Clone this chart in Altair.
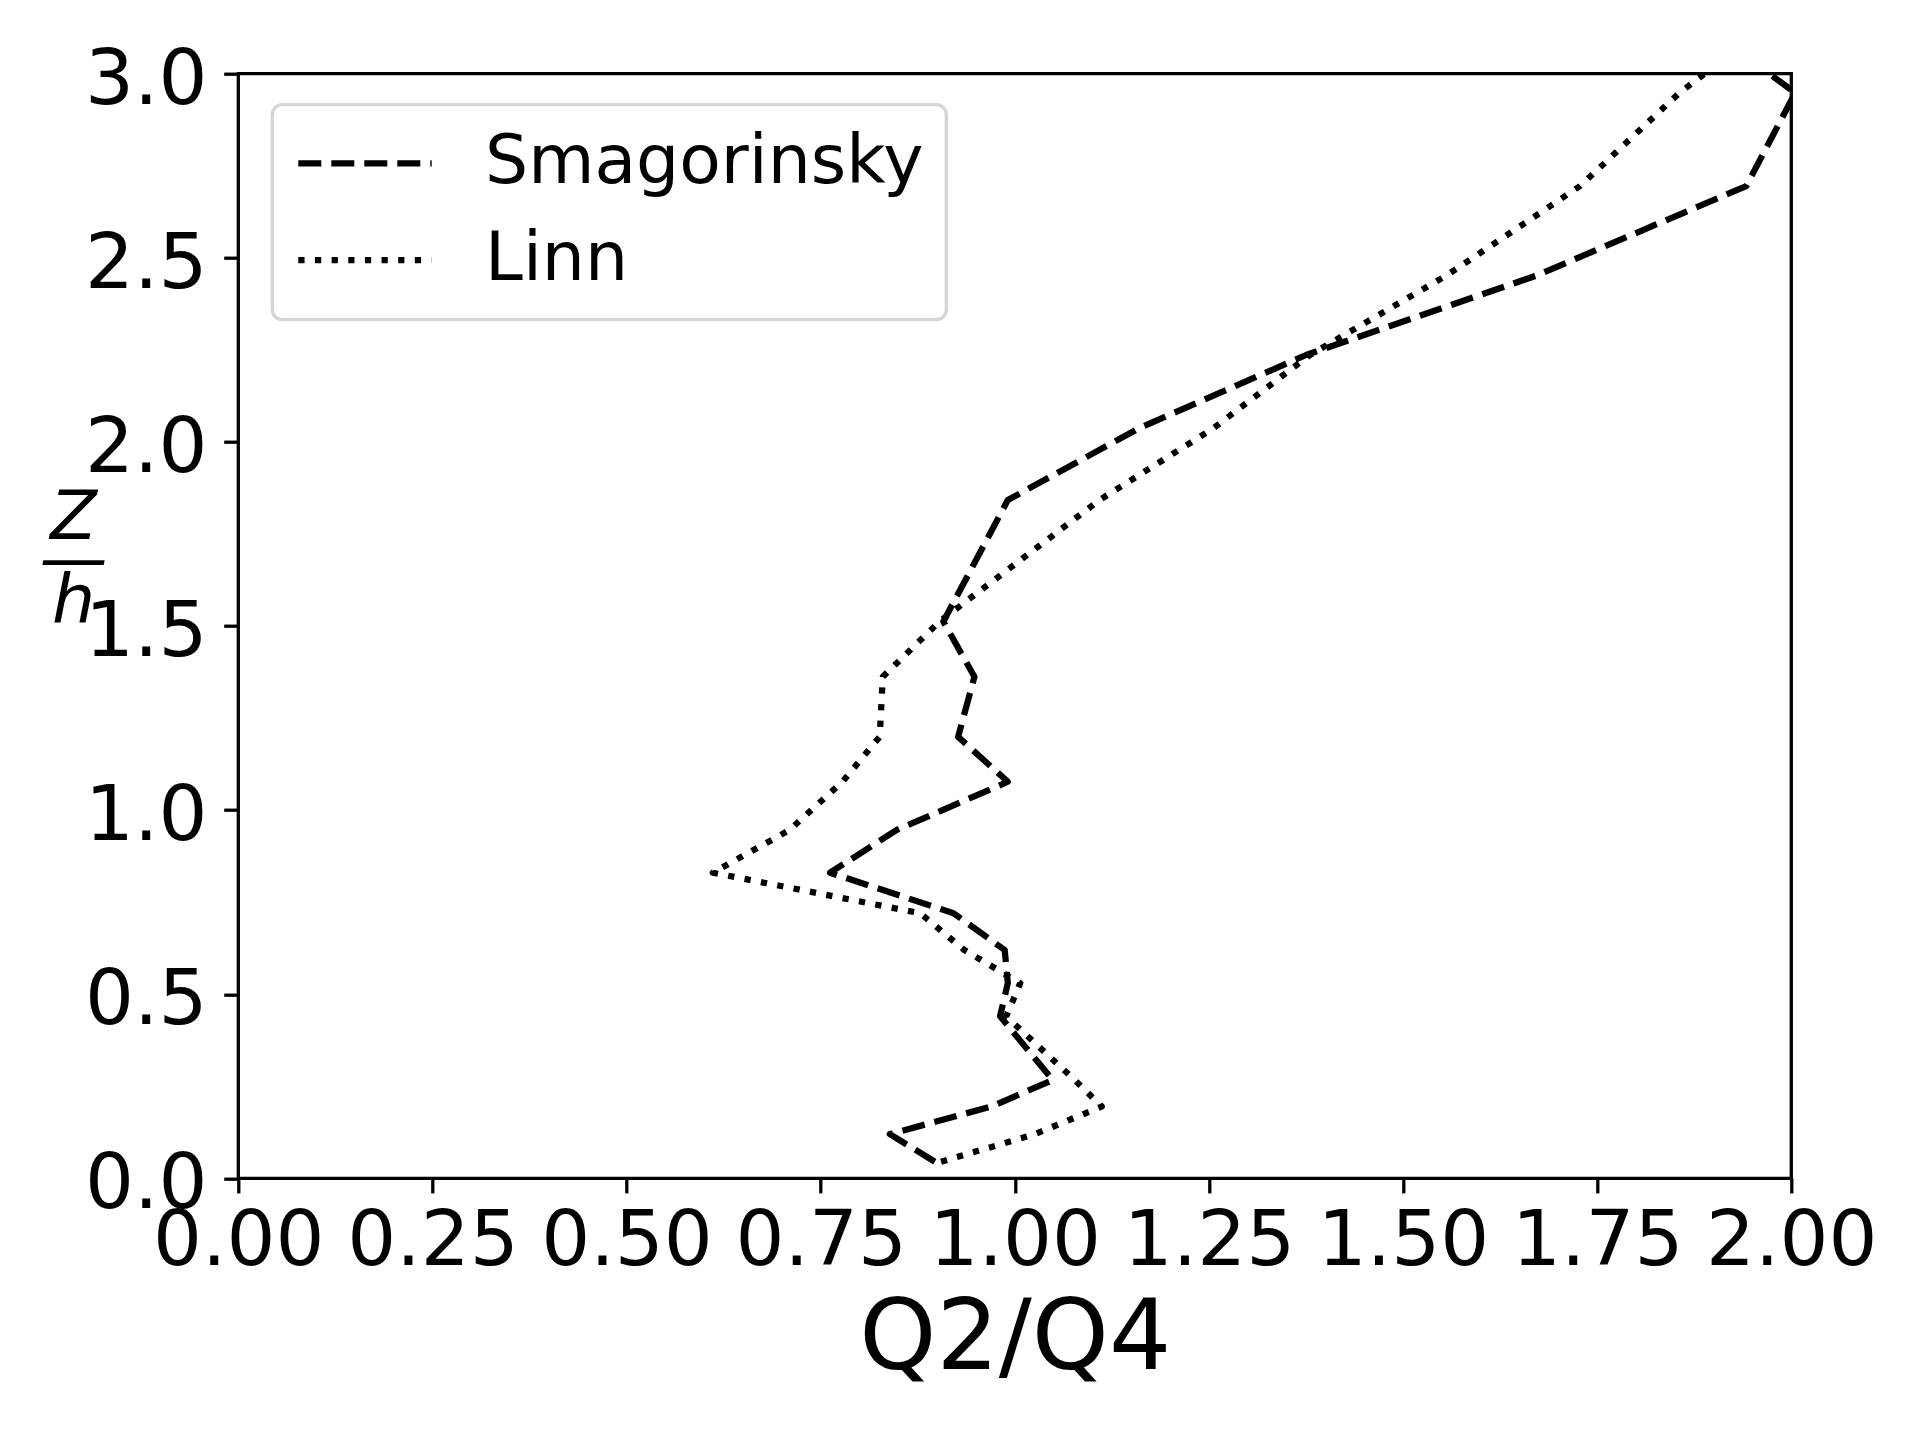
import altair as alt
import pandas as pd

# z/h levels (shared by both profiles)
z_levels = [0.045, 0.12, 0.195, 0.267, 0.44, 0.53, 0.62, 0.72, 0.83, 0.946, 1.077,
            1.199, 1.362, 1.512, 1.842, 2.036, 2.236, 2.452, 2.695, 2.948, 3.05]
# Q2/Q4 ratio, Smagorinsky model
smag = [0.897, 0.839, 0.970, 1.049, 0.981, 0.991, 0.987, 0.921, 0.762, 0.848, 0.991,
        0.927, 0.948, 0.908, 0.991, 1.159, 1.375, 1.672, 1.942, 2.005, 1.94]
# Q2/Q4 ratio, Linn model
linn = [0.905, 1.026, 1.112, 1.077, 0.989, 1.007, 0.935, 0.878, 0.611, 0.710, 0.778,
        0.826, 0.830, 0.903, 1.109, 1.255, 1.380, 1.556, 1.728, 1.856, 1.92]

models = ["Smagorinsky", "Linn"]
x_ticks = [0.0, 0.25, 0.5, 0.75, 1.0, 1.25, 1.5, 1.75, 2.0]
y_ticks = [0.0, 0.5, 1.0, 1.5, 2.0, 2.5, 3.0]

n = len(z_levels)
df = pd.DataFrame({
    "x": smag + linn,
    "z": z_levels + z_levels,
    "model": [models[0]] * n + [models[1]] * n,
    "idx": list(range(n)) * 2,
})

FONT = "DejaVu Sans"
LW = 6.25

chart = alt.Chart(df).mark_line(
    clip=True, color="black", strokeWidth=LW, strokeJoin="round", strokeCap="butt"
).encode(
    x=alt.X("x:Q",
            scale=alt.Scale(domain=[0, 2], nice=False, zero=False),
            axis=alt.Axis(values=x_ticks, format=".2f", title="Q2/Q4",
                          labelFont=FONT, labelFontSize=77, labelColor="black",
                          labelPadding=10.7, labelFlush=False, labelOverlap=False,
                          tickColor="black", tickWidth=3.3, tickSize=14.6,
                          domain=False, grid=False,
                          titleFont=FONT, titleFontSize=98, titleFontWeight="normal",
                          titleColor="black", titleBaseline="alphabetic",
                          titleAlign="center", titleX=776.5, titleY=190.7)),
    y=alt.Y("z:Q",
            scale=alt.Scale(domain=[0, 3], nice=False, zero=False),
            axis=alt.Axis(values=y_ticks, format=".1f", title=["Z", "\u2014", "h"],
                          labelFont=FONT, labelFontSize=77, labelColor="black",
                          labelPadding=16.7, labelFlush=False, labelOverlap=False,
                          labelOffset=6.5,
                          tickColor="black", tickWidth=3.3, tickSize=14.6,
                          domain=False, grid=False,
                          titleFont=FONT, titleFontSize=68, titleFontWeight="normal",
                          titleFontStyle="italic", titleColor="black",
                          titleAngle=0, titleAlign="center", titleBaseline="alphabetic",
                          titleLineHeight=42, titleX=-165.3, titleY=464.3)),
    strokeDash=alt.StrokeDash(
        "model:N",
        scale=alt.Scale(domain=models, range=[[23, 10], [LW, 10.4]]),
        legend=alt.Legend(title=None, orient="none", legendX=34, legendY=31,
                          symbolType="stroke", symbolSize=17796,
                          symbolStrokeWidth=LW, symbolStrokeColor="black",
                          labelFont=FONT, labelFontSize=68, labelColor="black",
                          labelOffset=50, labelLimit=2000, clipHeight=72,
                          padding=22.7, rowPadding=24.7,
                          strokeColor="#d6d6d6", cornerRadius=10, fillColor="white")),
    order=alt.Order("idx:Q"),
).properties(
    width=1553, height=1104.6,
    autosize=alt.AutoSizeParams(type="none"),
    padding={"left": 230.3, "top": 65.7, "right": 120.7, "bottom": 253.7},
).configure_view(
    stroke="black", strokeWidth=3.3
).configure_legend(
    strokeWidth=3.3
)

chart.save("out.html", embed_options={"renderer": "svg", "actions": False})
